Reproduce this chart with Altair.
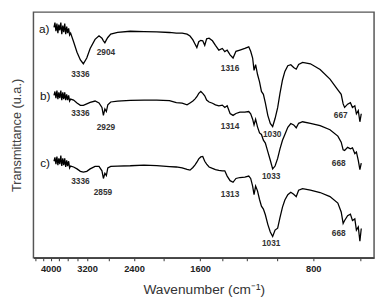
import altair as alt
import pandas as pd

# Wavenumber grid (cm-1)
wavenumber = [3921, 3898, 3874, 3851, 3828, 3806, 3783, 3760, 3738, 3715,
              3693, 3671, 3649, 3627, 3606, 3584, 3563, 3541, 3477,
              3405, 3335, 3275, 3207, 3141, 3048, 2975, 2922, 2896, 2870,
              2844, 2819, 2769, 2655, 2456, 2258, 2088, 1932, 1852, 1787,
              1734, 1703, 1673, 1653, 1633, 1614, 1594, 1575, 1556, 1538,
              1515, 1484, 1457, 1427, 1397, 1376, 1356, 1332, 1308, 1285,
              1254, 1217, 1188, 1174, 1160, 1150, 1139, 1126, 1112, 1099,
              1086, 1073, 1057, 1041, 1026, 1011, 995, 981, 966, 952,
              935, 918, 902, 888, 875, 854, 814, 767, 722, 688,
              674, 666, 660, 648, 637, 629, 620, 614, 607, 601, 596]

# Transmittance (u.a.), spectra offset vertically
spec_a = [241, 246, 237, 245, 235, 244, 238, 246, 234, 243,
          236, 245, 234, 242, 235, 240, 233, 235, 226,
          215, 207, 203, 209, 219, 228.5, 232.3, 229.7, 227, 225,
          228, 230.5, 234, 235.7, 237, 236.7, 236.3, 235.7, 235, 235,
          234, 232, 228, 224, 220, 226, 227.5, 227, 222.3, 229,
          229.7, 227, 222.3, 217.3, 219, 215.7, 217.3, 212.3, 209, 216,
          217.3, 219, 220.7, 216, 209, 196, 202, 192, 184, 174,
          171, 162, 149, 140.5, 137.3, 145.7, 157, 172, 186, 195,
          201, 202, 199, 197.3, 202.3, 204.5, 203, 197, 187, 175.7,
          171, 161, 157.3, 160.7, 162.3, 157.3, 159, 150.7, 154, 142.3, 150.7]

spec_b = [170, 174, 167, 175, 166, 173, 167, 175, 165, 173,
          166, 173, 165, 171, 165, 170, 164, 166, 165,
          162, 159.5, 159.5, 161, 162.5, 164, 162, 157.3, 149, 155.7,
          153, 160, 163, 164, 164.7, 165, 165, 164.5, 162.3, 161.7,
          160, 162, 164, 166, 168.5, 172, 174, 172, 169.5, 165,
          163, 161.7, 160, 159, 159.7, 157.3, 159, 151, 149, 151,
          152.3, 152.3, 153, 150.7, 145, 139, 145, 137, 130.7, 129,
          123, 120, 111, 102, 93, 96, 104, 114, 123, 129,
          136.5, 140.5, 139, 136, 140.7, 142.3, 140.7, 138.3, 134, 127.3,
          121, 113, 112.3, 115.5, 114, 115, 109, 110.7, 102, 92.3, 99]

spec_c = [101, 105, 98, 106, 97, 104, 98, 107, 96, 104,
          97, 104, 95, 102, 96, 101, 94, 96, 95,
          93, 90.5, 89.7, 90.5, 93, 95.7, 95.7, 91, 83, 88.5,
          86, 94, 95.7, 96, 96.3, 97, 96.5, 95.5, 95, 94,
          92.5, 91.7, 94.5, 97, 100, 103.5, 105.5, 106, 101, 98,
          95, 93.5, 92.3, 91.5, 91, 91, 85.5, 80.7, 79, 83,
          84, 84.5, 85.5, 83, 75, 66, 75, 70, 61, 54,
          51, 45, 35, 27, 22.3, 29, 31, 42, 53, 60.5,
          66, 68.5, 66.5, 64, 70.7, 72.3, 70.7, 68.3, 64, 57.3,
          48, 36, 39, 44, 45.7, 39, 40.7, 29, 32.3, 17.3, 30.7]

# Peak annotations
peak_text = ["3336", "2904", "1316", "1030", "667",
             "3336", "2929", "1314", "1033", "668",
             "3336", "2859", "1313", "1031", "668"]
peak_x = [3335, 2852, 1332, 1029, 676,
          3335, 2852, 1332, 1035, 684,
          3335, 2905, 1332, 1035, 684]
peak_y = [192, 215, 198.3, 129, 149,
          151, 137, 138.3, 85.7, 99,
          80.7, 69, 66.3, 15, 25.7]

# Series labels
series_text = ["a)", "b)", "c)"]
series_x = [4164, 4140, 4140]
series_y = [239, 169, 99]

tick_values = [4400, 4200, 4000, 3800, 3600, 3400, 3200, 2800, 2400, 2000,
               1600, 1400, 1200, 1000, 800, 600]
tick_labels = [4000, 3200, 2400, 1600, 800]

frames = []
for name, vals in (("a", spec_a), ("b", spec_b), ("c", spec_c)):
    frames.append(pd.DataFrame({"w": wavenumber, "t": vals, "s": name}))
spectra = pd.concat(frames, ignore_index=True)

peaks = pd.DataFrame({"w": peak_x, "t": peak_y, "label": peak_text})
series = pd.DataFrame({"w": series_x, "t": series_y, "label": series_text})

label_expr = ("indexof([" + ",".join(str(v) for v in tick_labels) +
              "], datum.value) >= 0 ? datum.label : ''")

x_enc = alt.X("w:Q",
              scale=alt.Scale(type="log", domain=[551, 4447], reverse=True, nice=False, zero=False),
              axis=alt.Axis(title="Wavenumber (cm⁻¹)", values=tick_values, format="d",
                            labelExpr=label_expr, labelOverlap=False, labelFlush=False,
                            tickSize=3, tickColor="#333", tickWidth=1,
                            labelFont="Liberation Sans", labelFontSize=9.5, labelFontWeight="bold",
                            labelColor="#222", labelPadding=3,
                            titleFont="Liberation Sans", titleFontSize=14, titleFontWeight="normal",
                            titleColor="#333", titlePadding=10,
                            domain=True, domainColor="#444", domainWidth=1.5, grid=False))
y_enc = alt.Y("t:Q",
              scale=alt.Scale(domain=[0, 257], nice=False, zero=False),
              axis=alt.Axis(title="Transmittance (u.a.)", labels=False, ticks=False, domain=False,
                            grid=False, titleFont="Liberation Sans", titleFontSize=13,
                            titleFontWeight="normal", titleColor="#444", titlePadding=10))

lines = alt.Chart(spectra).mark_line(color="black", strokeWidth=1.3).encode(
    x=x_enc, y=y_enc, detail="s:N")

peak_marks = alt.Chart(peaks).mark_text(font="Liberation Sans", fontSize=8.5, fontWeight="bold",
                                        color="#333", align="center", baseline="middle").encode(
    x="w:Q", y="t:Q", text="label:N")

series_marks = alt.Chart(series).mark_text(font="Liberation Sans", fontSize=12,
                                           color="#111", align="center", baseline="middle").encode(
    x="w:Q", y="t:Q", text="label:N")

chart = alt.layer(lines, peak_marks, series_marks).properties(
    width=348, height=251,
    autosize=alt.AutoSizeParams(type="none"),
    padding={"left": 26, "top": 1, "right": 3, "bottom": 45},
).configure_view(stroke="#555", strokeWidth=1.5)

chart.save("out.html", embed_options={"renderer": "svg", "actions": False})
